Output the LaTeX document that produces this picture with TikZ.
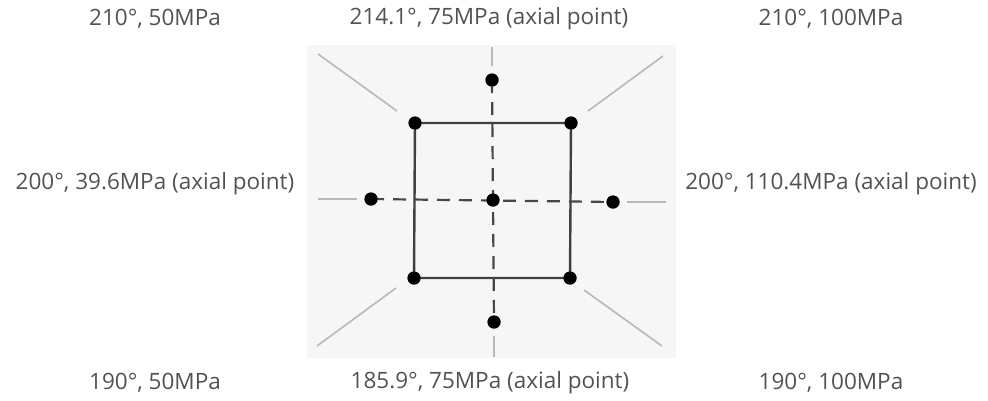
\documentclass[tikz,border=0pt]{standalone}
\usepackage{fontspec}
\setmainfont{Open Sans}
\usetikzlibrary{calc}
\begin{document}
\begin{tikzpicture}[x=1pt,y=-1pt,
  lbl/.style={text=black!68, font=\fontsize{22.5}{24}\selectfont, inner sep=0pt},
  pt/.style={circle, fill=black, inner sep=0pt, minimum size=13pt},
  frame/.style={draw=black!75, line width=2.4pt},
  axis/.style={draw=black!72, line width=2.2pt, dash pattern=on 13pt off 9pt},
  ray/.style={draw=black!28, line width=1.6pt}]
\useasboundingbox (0,0) rectangle (988,400);
\fill[black!3.5] (307,45) rectangle (676,358);
% coordinates
\coordinate (tl1) at (318,54); \coordinate (tl2) at (397,111);
\coordinate (tr1) at (588,111); \coordinate (tr2) at (663,56);
\coordinate (bl1) at (317,346); \coordinate (bl2) at (396,288);
\coordinate (br1) at (584,290); \coordinate (br2) at (662,346);
\coordinate (vt) at (492,47); \coordinate (vb) at (494,357);
\coordinate (hl) at (318,199); \coordinate (hr) at (666,202);
% rays
\draw[ray] (tl1) -- (tl2);
\draw[ray] (tr1) -- (tr2);
\draw[ray] (bl1) -- (bl2);
\draw[ray] (br1) -- (br2);
% points
\node[pt] (a) at (415,123) {};
\node[pt] (b) at (571,123) {};
\node[pt] (c) at (570,278) {};
\node[pt] (d) at (414,278) {};
\node[pt] (o) at (493,200) {};
\node[pt] (t) at (492,80) {};
\node[pt] (bo) at (494,322) {};
\node[pt] (l) at (371,199) {};
\node[pt] (r) at (613,202) {};
\draw[ray] (vt) -- ($(t)+(0,-14)$);
\draw[ray] ($(bo)+(0,14)$) -- (vb);
\draw[ray] (hl) -- ($(l)+(-14,0)$);
\draw[ray] ($(r)+(14,0)$) -- (hr);
\draw[frame] (a.center) -- (b.center) -- (c.center) -- (d.center) -- cycle;
\draw[axis] (t.center) -- (bo.center);
\draw[axis] (l.center) -- (r.center);
\node[pt] at (a) {}; \node[pt] at (b) {}; \node[pt] at (c) {}; \node[pt] at (d) {};
\node[pt] at (o) {}; \node[pt] at (t) {}; \node[pt] at (bo) {}; \node[pt] at (l) {}; \node[pt] at (r) {};
% labels
\node[lbl] (L1) at (155,19) {210°, 50MPa};
\node[lbl] (L2) at (489,19) {214.1°, 75MPa (axial point)};
\node[lbl] (L3) at (831,19) {210°, 100MPa};
\node[lbl] (L4) at (155,184) {200°, 39.6MPa (axial point)};
\node[lbl] (L5) at (831,184) {200°, 110.4MPa (axial point)};
\node[lbl] (L6) at (155,383) {190°, 50MPa};
\node[lbl] (L7) at (490,383) {185.9°, 75MPa (axial point)};
\node[lbl] (L8) at (831,383) {190°, 100MPa};
\end{tikzpicture}
\end{document}
